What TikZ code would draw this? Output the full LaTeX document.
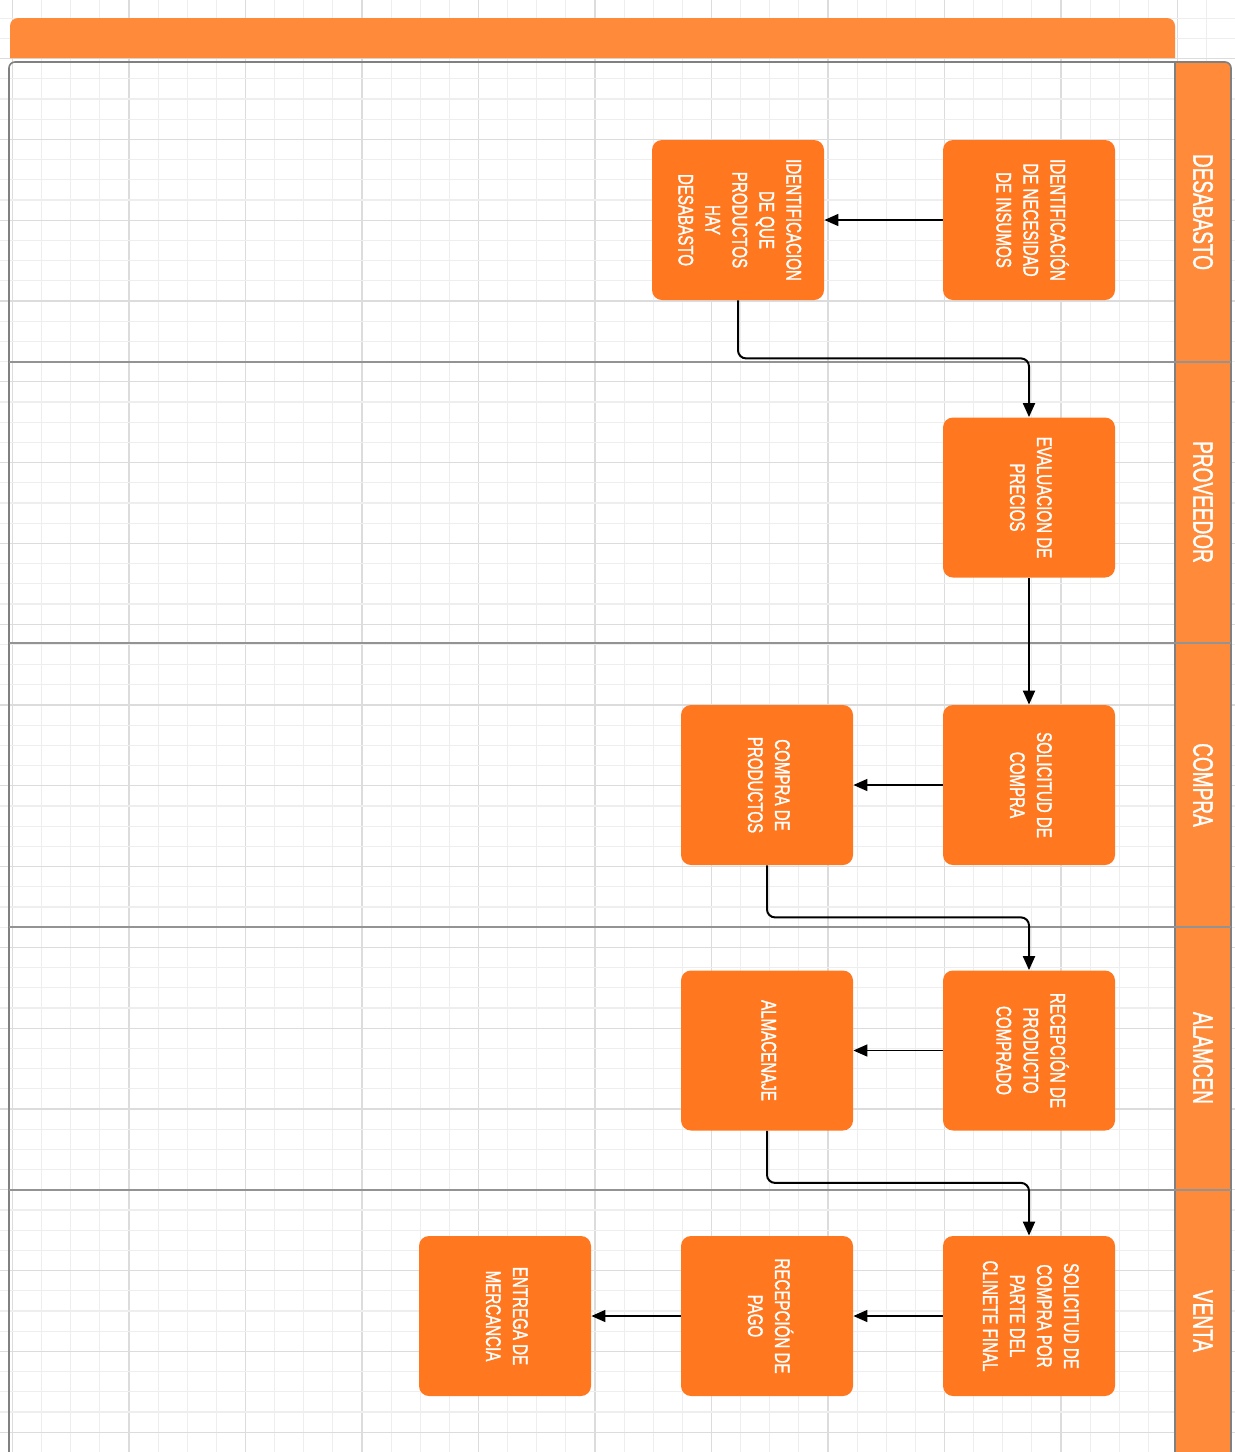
\documentclass[tikz,border=0pt]{standalone}
\usepackage{fontspec}
\setmainfont[FakeBold=1.6]{Liberation Sans}
\usetikzlibrary{arrows.meta}
\definecolor{boxorange}{RGB}{255,120,32}
\definecolor{laneorange}{RGB}{255,138,58}
\definecolor{gridminor}{RGB}{238,238,238}
\definecolor{gridmajor}{RGB}{220,220,220}
\definecolor{poolline}{RGB}{128,128,128}
\newcommand{\boxtext}[1]{\rotatebox{-90}{\scalebox{0.72}[1]{\fontsize{10.5}{13.5}\selectfont\begin{tabular}{@{}c@{}}#1\end{tabular}}}}
\newcommand{\lanetext}[1]{\rotatebox{-90}{\scalebox{0.68}[1]{\fontsize{14}{16}\selectfont #1}}}
\tikzset{
  procbox/.style={fill=boxorange, rounded corners=5pt, minimum width=86pt, minimum height=80pt, inner sep=0pt, text=white},
  lanelabel/.style={text=white, inner sep=0pt},
  flowh/.style={line width=0.8pt, -{Triangle[width=6pt,length=7pt]}},
  flowv/.style={line width=1pt, rounded corners=4pt, -{Triangle[width=6pt,length=7pt]}}
}
\begin{document}
\begin{tikzpicture}[x=0.5pt,y=-0.5pt]
\useasboundingbox (0,0) rectangle (1235,1452);
\fill[white] (0,0) rectangle (1235,1452);
% grid
\foreach \k in {0,...,42} {
  \pgfmathsetmacro\xx{12.5+29.125*\k}
  \pgfmathtruncatemacro\m{mod(\k,4)}
  \ifnum\m=0
    \draw[gridmajor,line width=0.6pt] (\xx,0) -- (\xx,1452);
  \else
    \draw[gridminor,line width=0.6pt] (\xx,0) -- (\xx,1452);
  \fi
}
\foreach \k in {0,...,72} {
  \pgfmathsetmacro\yy{-2+20.2*\k}
  \pgfmathtruncatemacro\m{mod(\k,4)}
  \ifnum\m=3
    \draw[gridmajor,line width=0.6pt] (0,\yy) -- (1235,\yy);
  \else
    \draw[gridminor,line width=0.6pt] (0,\yy) -- (1235,\yy);
  \fi
}
% top bar
\fill[laneorange] (10,58) [rounded corners=4pt] -- (10,18) -- (1175,18) [sharp corners] -- (1175,58) -- cycle;
% lane header column
\fill[laneorange] (1175,1460) -- (1175,62) [rounded corners=3pt] -- (1231,62) [sharp corners] -- (1231,1460) -- cycle;
% pool border
\draw[poolline, line width=0.8pt, rounded corners=3pt] (9,1460) -- (9,62) -- (1231,62) -- (1231,1460);
\draw[poolline, line width=0.8pt] (1175,62) -- (1175,1460);
\foreach \y in {362,643,927,1190}
  \draw[poolline!85, line width=0.6pt] (9,\y) -- (1231,\y);
% lane labels
\node[lanelabel] (lDes) at (1203,212) {\lanetext{DESABASTO}};
\node[lanelabel] (lPro) at (1203,502) {\lanetext{PROVEEDOR}};
\node[lanelabel] (lCom) at (1203,785) {\lanetext{COMPRA}};
\node[lanelabel] (lAlm) at (1203,1058) {\lanetext{ALAMCEN}};
\node[lanelabel] (lVen) at (1203,1321) {\lanetext{VENTA}};
% process boxes
\node[procbox] (n1) at (1029,220) {\boxtext{IDENTIFICACIÓN\\DE NECESIDAD\\DE INSUMOS}};
\node[procbox] (n2) at (738,220) {\boxtext{IDENTIFICACION\\DE QUE\\PRODUCTOS\\HAY\\DESABASTO}};
\node[procbox] (n3) at (1029,497.5) {\boxtext{EVALUACION DE\\PRECIOS}};
\node[procbox] (n4) at (1029,785) {\boxtext{SOLICITUD DE\\COMPRA}};
\node[procbox] (n5) at (767,785) {\boxtext{COMPRA DE\\PRODUCTOS}};
\node[procbox] (n6) at (1029,1050.5) {\boxtext{RECEPCIÓN DE\\PRODUCTO\\COMPRADO}};
\node[procbox] (n7) at (767,1050.5) {\boxtext{ALMACENAJE}};
\node[procbox] (n8) at (1029,1316) {\boxtext{SOLICITUD DE\\COMPRA POR\\PARTE DEL\\CLINETE FINAL}};
\node[procbox] (n9) at (767,1316) {\boxtext{RECEPCIÓN DE\\PAGO}};
\node[procbox] (n10) at (505,1316) {\boxtext{ENTREGA DE\\MERCANCIA}};
% connectors
\draw[flowh] (n1) -- (n2);
\draw[flowv] (n2.south) -- ++(0,58) -| (n3.north);
\draw[flowv] (n3) -- (n4);
\draw[flowh] (n4) -- (n5);
\draw[flowv] (n5.south) -- ++(0,52) -| (n6.north);
\draw[flowh] (n6) -- (n7);
\draw[flowv] (n7.south) -- ++(0,52) -| (n8.north);
\draw[flowh] (n8) -- (n9);
\draw[flowh] (n9) -- (n10);
\end{tikzpicture}
\end{document}
